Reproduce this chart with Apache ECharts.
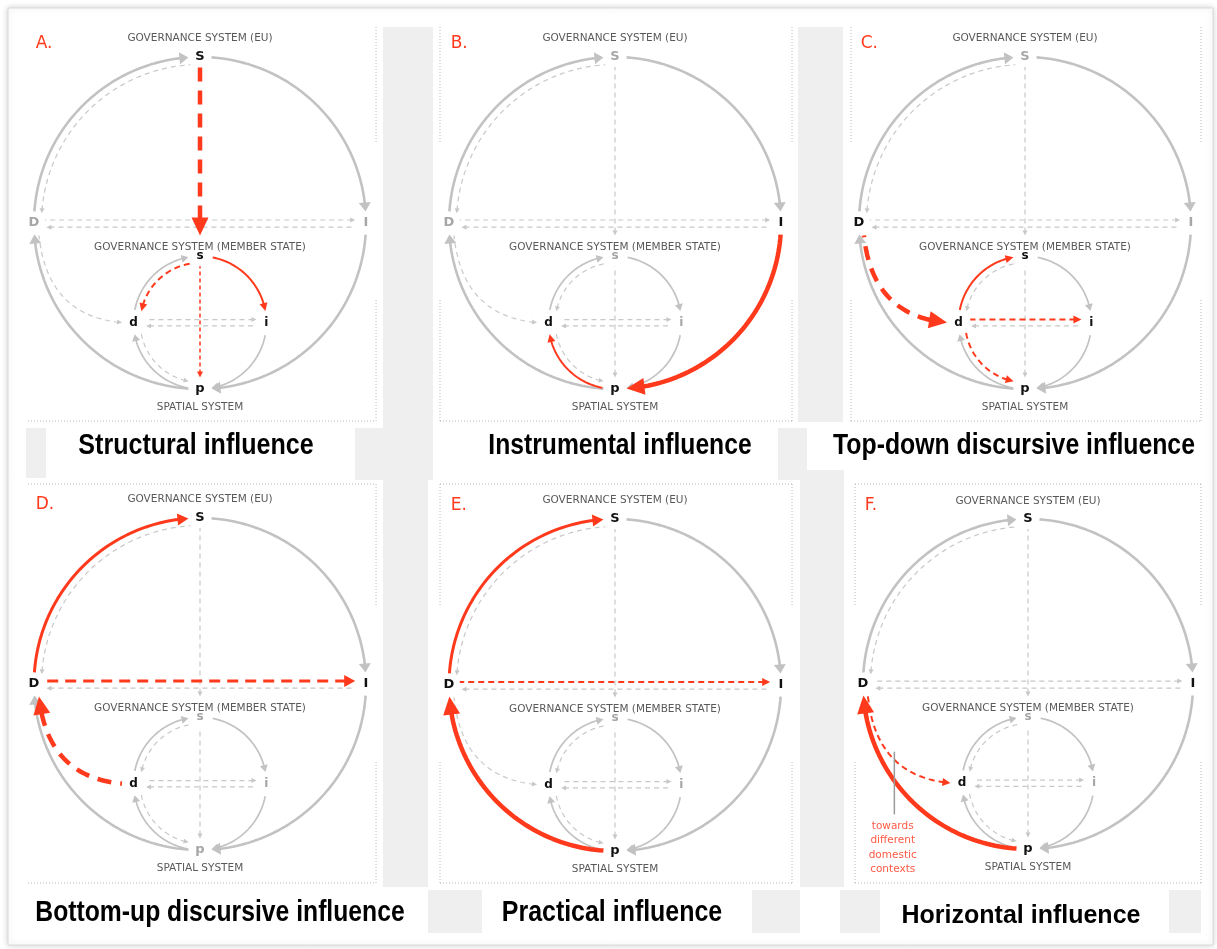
<!DOCTYPE html>
<html><head><meta charset="utf-8">
<script src="https://cdn.jsdelivr.net/npm/echarts/dist/echarts.min.js"></script>
<style>html,body{margin:0;padding:0;background:#fff}#c{width:1217px;height:949px}</style>
</head><body><div id="c"></div>
<script>
// ================= DATA =================
const nodeNames = ['S', 'D', 'I', 'p', 's', 'd', 'i'];
const nodeX = [0, -1, 1, 0, 0, -0.4, 0.4];
const nodeY = [1, 0, 0, -1, -0.2, -0.6, -0.6];
const panelLetters = ['A.', 'B.', 'C.', 'D.', 'E.', 'F.'];
const captions = ['Structural influence', 'Instrumental influence', 'Top-down discursive influence',
  'Bottom-up discursive influence', 'Practical influence', 'Horizontal influence'];
const systemLabels = ['GOVERNANCE SYSTEM (EU)', 'GOVERNANCE SYSTEM (MEMBER STATE)', 'SPATIAL SYSTEM'];
const activeNodes = [
  ['S', 's', 'd', 'i', 'p'],
  ['I', 'd', 'p'],
  ['D', 's', 'd', 'i', 'p'],
  ['S', 'D', 'I', 'd'],
  ['S', 'D', 'I', 'd', 'p'],
  ['S', 'D', 'I', 'd', 'p']
];
// [from, to, kind]
const baseEdges = [
  ['D', 'S', 'big'], ['S', 'I', 'big'], ['I', 'p', 'big'], ['p', 'D', 'big'],
  ['S', 'D', 'bigIn'], ['D', 'd', 'curve'],
  ['D', 'I', 'hTop'], ['I', 'D', 'hBot'],
  ['S', 's', 'vTop'], ['s', 'p', 'vBot'],
  ['d', 's', 'small'], ['s', 'i', 'small'], ['i', 'p', 'small'], ['p', 'd', 'small'],
  ['s', 'd', 'smallIn'], ['d', 'p', 'smallIn'],
  ['d', 'i', 'shTop'], ['i', 'd', 'shBot']
];
// highlighted influence paths per panel: [from, to, kind, weight]
const influenceEdges = [
  [['S', 's', 'vTop', 'thick'], ['s', 'i', 'small', 'thin'], ['s', 'd', 'smallIn', 'thin'], ['s', 'p', 'vBot', 'fine']],
  [['I', 'p', 'big', 'thick'], ['p', 'd', 'small', 'thin']],
  [['D', 'd', 'curve', 'thick'], ['d', 's', 'small', 'thin'], ['d', 'i', 'shTop', 'thin'], ['d', 'p', 'smallIn', 'thin']],
  [['D', 'S', 'big', 'med'], ['D', 'I', 'hTop', 'med'], ['d', 'D', 'curve', 'thick']],
  [['D', 'S', 'big', 'med'], ['D', 'I', 'hTop', 'thin'], ['p', 'D', 'big', 'thick']],
  [['p', 'D', 'big', 'thick'], ['D', 'd', 'curve', 'thin']]
];
const noteLines = ['towards', 'different', 'domestic', 'contexts'];

// ================= LAYOUT / STYLE =================
const LAYOUT = {
  panels: [
    {cx: 200, cy: 223, R: 166}, {cx: 615, cy: 223, R: 166}, {cx: 1025, cy: 223, R: 166},
    {cx: 200, cy: 684, R: 166}, {cx: 615, cy: 685, R: 166}, {cx: 1028, cy: 684, R: 165}
  ],
  systemLabelY: [1.11, -0.145, -1.11],
  letterPos: [-0.99, 1.08],
  captionPos: [[196, 446], [620, 446], [1014, 446], [220, 913], [612, 913], [1021, 916]],
  captionFont: ['bold 29px "Liberation Sans", sans-serif', 'bold 29px "Liberation Sans", sans-serif',
    'bold 29px "Liberation Sans", sans-serif', 'bold 29px "Liberation Sans", sans-serif',
    'bold 29px "Liberation Sans", sans-serif', 'bold 25px "Liberation Sans", sans-serif'],
  captionScaleX: [0.864, 0.851, 0.855, 0.852, 0.86, 1.0],
  notePanel: 5, noteX: -0.82, noteY0: -0.865, noteDy: -0.085,
  pointer: [-0.81, -0.41, -0.81, -0.79]
};
const GREY = '#c2c2c2', GREY_D = '#c8c8c8', RED = '#ff3a1c', LABEL_GREY = '#a6a6a6', TXT = '#595959';
const GEO = {
  big: {cy: 0, r: 1, g0: 4, g1: 4},
  bigIn: {cy: 0, r: 0.955, g0: 3.5, g1: 3.5},
  small: {cy: -0.6, r: 0.4, g0: 11, g1: 10},
  smallIn: {cy: -0.6, r: 0.36, g0: 8, g1: 11}
};
const ANG = {S: 90, I: 0, p: -90, D: 180, s: 90, i: 0, d: 180};
const HGEO = {
  hTop: {y: 0.018, i0: 0.065, i1: 0.065}, hBot: {y: -0.025, i0: 0.065, i1: 0.075},
  shTop: {y: -0.582, i0: 0.07, i1: 0.06}, shBot: {y: -0.62, i0: 0.07, i1: 0.075}
};
const VGEO = {vTop: {i0: 0.06, i1: 0.125}, vBot: {i0: 0.06, i1: 0.07}};
const CURVE = {p0: [-0.97, -0.075], p1: [-0.92, -0.56], p2: [-0.47, -0.6]};
const DASHED = ['bigIn', 'smallIn', 'hTop', 'hBot', 'shTop', 'shBot', 'vTop', 'vBot', 'curve'];

// ================= GEOMETRY =================
const DEG = Math.PI / 180;
const ni = n => nodeNames.indexOf(n);
function arcPts(cy, r, a0, a1) {
  const n = Math.max(8, Math.ceil(Math.abs(a1 - a0) / 1.5));
  const pts = [];
  for (let k = 0; k <= n; k++) {
    const a = (a0 + (a1 - a0) * k / n) * DEG;
    pts.push([r * Math.cos(a), cy + r * Math.sin(a)]);
  }
  return pts;
}
function sdelta(a0, a1) { let d = a1 - a0; while (d > 180) d -= 360; while (d < -180) d += 360; return d; }
function edgeGeom(from, to, kind) {
  const fx = nodeX[ni(from)], fy = nodeY[ni(from)], tx = nodeX[ni(to)], ty = nodeY[ni(to)];
  if (GEO[kind]) {
    const G = GEO[kind], a0 = ANG[from], d = sdelta(a0, ANG[to]), sg = Math.sign(d);
    return arcPts(G.cy, G.r, a0 + sg * G.g0, a0 + d - sg * G.g1);
  }
  if (HGEO[kind]) {
    const H = HGEO[kind], dir = Math.sign(tx - fx);
    return [[fx + dir * H.i0, H.y], [tx - dir * H.i1, H.y]];
  }
  if (VGEO[kind]) {
    const V = VGEO[kind], dir = Math.sign(ty - fy);
    return [[0, fy + dir * V.i0], [0, ty - dir * V.i1]];
  }
  // curve D <-> d
  const pts = [];
  for (let k = 0; k <= 40; k++) {
    const t = k / 40, u = 1 - t;
    pts.push([u * u * CURVE.p0[0] + 2 * u * t * CURVE.p1[0] + t * t * CURVE.p2[0],
      u * u * CURVE.p0[1] + 2 * u * t * CURVE.p1[1] + t * t * CURVE.p2[1]]);
  }
  return from === 'D' ? pts : pts.reverse();
}
function edgeStyle(e) {
  const dashed = DASHED.indexOf(e.kind) >= 0;
  if (!e.red) {
    if (e.kind === 'big') return {c: GREY, w: 2.6, al: 9, aw: 12};
    if (e.kind === 'small') return {c: GREY, w: 1.7, al: 7, aw: 8};
    return {c: GREY_D, w: 1.2, al: 5, aw: 5, dash: [5, 4]};
  }
  const W = {
    fine: {w: 1.5, al: 6, aw: 6, dash: [4, 3]},
    thin: {w: 2, al: 8, aw: 8, dash: [6, 4]},
    med: {w: 3, al: 11, aw: 12, dash: [11, 7]},
    thick: {w: 4.5, al: 18, aw: 17, dash: [14, 9]}
  }[e.weight];
  return {c: RED, w: W.w, al: W.al, aw: W.aw, dash: dashed ? W.dash : null};
}
function splitArrow(pts, al, aw) {
  let remain = al, i = pts.length - 1, base = pts[0];
  while (i > 0) {
    const dx = pts[i][0] - pts[i - 1][0], dy = pts[i][1] - pts[i - 1][1], L = Math.hypot(dx, dy);
    if (L >= remain) { base = [pts[i][0] - dx / L * remain, pts[i][1] - dy / L * remain]; break; }
    remain -= L; i--;
  }
  if (i < 1) i = 1;
  const tip = pts[pts.length - 1];
  let dx = tip[0] - base[0], dy = tip[1] - base[1]; const L = Math.hypot(dx, dy) || 1; dx /= L; dy /= L;
  const px = -dy, py = dx;
  const line = pts.slice(0, i).concat([[base[0] + dx * 1.5, base[1] + dy * 1.5]]);
  const head = [tip, [base[0] + px * aw / 2, base[1] + py * aw / 2], [base[0] - px * aw / 2, base[1] - py * aw / 2]];
  return {line, head};
}
function pathLen(pts) { let L = 0; for (let k = 1; k < pts.length; k++) L += Math.hypot(pts[k][0] - pts[k - 1][0], pts[k][1] - pts[k - 1][1]); return L; }
function makeEdgeRenderer(edges) {
  return function (params, api) {
    const e = edges[params.dataIndex];
    const st = edgeStyle(e);
    const pts = edgeGeom(e.from, e.to, e.kind).map(p => api.coord(p));
    const a = splitArrow(pts, st.al, st.aw);
    const ls = {stroke: st.c, lineWidth: st.w, fill: null, lineCap: 'butt', lineJoin: 'round'};
    if (st.dash) {
      const per = st.dash[0] + st.dash[1], L = pathLen(a.line);
      ls.lineDash = st.dash;
      ls.lineDashOffset = (((st.dash[0] - 0.5 - L) % per) + per) % per;
    }
    return {type: 'group', children: [
      {type: 'polyline', shape: {points: a.line}, style: ls},
      {type: 'polygon', shape: {points: a.head}, style: {fill: st.c}}
    ]};
  };
}
function makeTextRenderer(items) {
  return function (params, api) {
    const t = items[params.dataIndex];
    const p = api.coord([api.value(0), api.value(1)]);
    return {type: 'text', x: p[0], y: p[1], style: {text: t.text, font: t.font, fill: t.fill,
      align: t.align, verticalAlign: 'middle', textAlign: t.align, textVerticalAlign: 'middle'}};
  };
}
const key = (a, b, k) => k + ':' + [a, b].sort().join('');

// ================= OPTION =================
const grids = [], xAxes = [], yAxes = [], series = [];
LAYOUT.panels.forEach((P, pi) => {
  grids.push({left: P.cx - P.R, top: P.cy - P.R, width: 2 * P.R, height: 2 * P.R, containLabel: false});
  xAxes.push({type: 'value', gridIndex: pi, min: -1, max: 1, show: false});
  yAxes.push({type: 'value', gridIndex: pi, min: -1, max: 1, show: false});
  const red = influenceEdges[pi];
  const hidden = new Set(red.map(e => key(e[0], e[1], e[2])));
  const edges = baseEdges.filter(e => !hidden.has(key(e[0], e[1], e[2])))
    .map(e => ({from: e[0], to: e[1], kind: e[2], red: false}))
    .concat(red.map(e => ({from: e[0], to: e[1], kind: e[2], weight: e[3], red: true})));
  series.push({
    type: 'custom', coordinateSystem: 'cartesian2d', xAxisIndex: pi, yAxisIndex: pi, silent: true, z: 2,
    data: edges.map(e => [nodeX[ni(e.from)], nodeY[ni(e.from)]]),
    renderItem: makeEdgeRenderer(edges)
  });
  // texts
  const items = [];
  nodeNames.forEach((n, k) => {
    const big = k < 4, act = activeNodes[pi].indexOf(n) >= 0;
    items.push({text: n, x: nodeX[k], y: nodeY[k], align: 'center',
      font: 'bold ' + (big ? 13 : 12) + 'px "DejaVu Sans", Verdana, sans-serif', fill: act ? '#111' : LABEL_GREY});
  });
  systemLabels.forEach((s, k) => items.push({text: s, x: 0, y: LAYOUT.systemLabelY[k], align: 'center',
    font: '10.5px "DejaVu Sans", Verdana, sans-serif', fill: TXT}));
  items.push({text: panelLetters[pi], x: LAYOUT.letterPos[0], y: LAYOUT.letterPos[1], align: 'left',
    font: '17px "DejaVu Sans", Verdana, sans-serif', fill: RED});
  if (pi === LAYOUT.notePanel) {
    noteLines.forEach((s, k) => items.push({text: s, x: LAYOUT.noteX, y: LAYOUT.noteY0 + k * LAYOUT.noteDy,
      align: 'center', font: '10.5px "DejaVu Sans", Verdana, sans-serif', fill: '#ff5a46'}));
    series.push({
      type: 'custom', coordinateSystem: 'cartesian2d', xAxisIndex: pi, yAxisIndex: pi, silent: true, z: 3,
      encode: {x: [0, 2], y: [1, 3]},
      data: [LAYOUT.pointer],
      renderItem: function (params, api) {
        const a = api.coord([api.value(0), api.value(1)]), b = api.coord([api.value(2), api.value(3)]);
        return {type: 'line', shape: {x1: a[0], y1: a[1], x2: b[0], y2: b[1]}, style: {stroke: '#9a9a9a', lineWidth: 1.5}};
      }
    });
  }
  series.push({
    type: 'custom', coordinateSystem: 'cartesian2d', xAxisIndex: pi, yAxisIndex: pi, silent: true, z: 4,
    data: items.map(t => [t.x, t.y]),
    renderItem: makeTextRenderer(items)
  });
});

// decoration
const graphic = [];
graphic.push({type: 'rect', z: 0, shape: {x: 8, y: 8, width: 1205, height: 937},
  style: {fill: '#fff', stroke: '#dadada', lineWidth: 1, shadowBlur: 6, shadowColor: 'rgba(0,0,0,0.18)'}});
[[383, 27, 50, 453], [26, 428, 20, 50], [355, 428, 28, 52], [798, 27, 45, 395], [778, 428, 29, 52],
  [383, 480, 45, 407], [428, 890, 54, 43], [752, 890, 48, 43], [800, 470, 44, 417], [840, 890, 40, 43], [1169, 890, 32, 43]]
  .forEach(r => graphic.push({type: 'rect', z: 1, shape: {x: r[0], y: r[1], width: r[2], height: r[3]}, style: {fill: '#efefef'}}));
const dotted = [];
[[28, 376, false], [440, 792, true], [851, 1201, true]].forEach(f => {
  dotted.push([f[0], 421, f[1], 421]);
  dotted.push([f[1], 27, f[1], 143], [f[1], 300, f[1], 421]);
  if (f[2]) dotted.push([f[0], 27, f[0], 143], [f[0], 300, f[0], 421]);
});
[[28, 376, false], [440, 792, true], [855, 1201, true]].forEach(f => {
  dotted.push([f[0], 484, f[1], 484], [f[0], 883, f[1], 883]);
  dotted.push([f[1], 484, f[1], 605], [f[1], 762, f[1], 883]);
  if (f[2]) dotted.push([f[0], 484, f[0], 605], [f[0], 762, f[0], 883]);
});
dotted.forEach(d => graphic.push({type: 'line', z: 1, shape: {x1: d[0], y1: d[1], x2: d[2], y2: d[3]},
  style: {stroke: '#b8b8b8', lineWidth: 1, lineDash: [1, 2]}}));
captions.forEach((c, k) => graphic.push({type: 'text', z: 10, x: LAYOUT.captionPos[k][0], y: LAYOUT.captionPos[k][1],
  scaleX: LAYOUT.captionScaleX[k], scaleY: 1,
  style: {text: c, x: 0, y: 0, font: LAYOUT.captionFont[k], fill: '#000', align: 'center', verticalAlign: 'middle',
    textAlign: 'center', textVerticalAlign: 'middle'}}));

const chart = echarts.init(document.getElementById('c'), null, {renderer: 'canvas'});
chart.setOption({animation: false, backgroundColor: '#ffffff', grid: grids, xAxis: xAxes, yAxis: yAxes, series, graphic});
</script></body></html>
